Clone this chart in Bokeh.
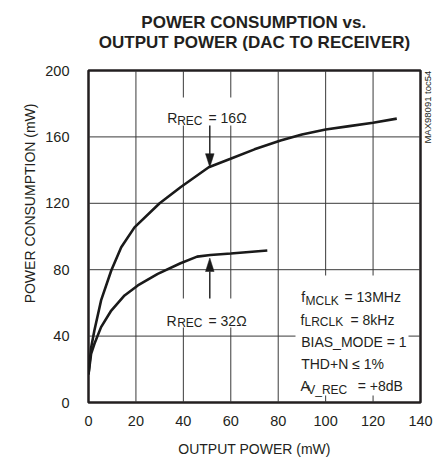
import math
from bokeh.plotting import figure
from bokeh.models import Label, Range1d, FixedTicker, LinearAxis, Title
from bokeh.embed import file_html
from bokeh.resources import INLINE

# ---- data ----
x16 = [0, 1.1, 2.5, 5.3, 9.6, 13.8, 19.4, 30, 38.8, 50.7, 59.9, 70, 81, 90, 100, 110, 120, 130]
y16 = [17, 33, 43.5, 61.5, 79.5, 93.5, 105.5, 120, 129.7, 141.7, 146.8, 152.5, 157.8, 161.5, 164.5, 166.5, 168.5, 171]

x32 = [0, 1.1, 2.5, 5.3, 9.6, 15.2, 20.8, 29.2, 38.8, 45.8, 51.4, 60, 75.4]
y32 = [17, 29.3, 35.4, 45.4, 55.4, 64.5, 70.5, 77.5, 83.9, 87.9, 88.9, 89.8, 91.6]

x_ticks = [0, 20, 40, 60, 80, 100, 120, 140]
y_ticks = [0, 40, 80, 120, 160, 200]

title_lines = ["POWER CONSUMPTION vs.", "OUTPUT POWER (DAC TO RECEIVER)"]

FONT = "Liberation Sans"
TXT = "#231f20"

# layout (page pixels of frame)
FL, FR, FT, FB = 88, 420, 70, 402
XMAX, YMAX = 140, 200


def X(px):
    return (px - FL) / (FR - FL) * XMAX


def Y(py):
    return (FB - py) / (FB - FT) * YMAX


p = figure(title=None, frame_width=FR - FL, frame_height=FB - FT,
           min_border_left=FL, min_border_right=17,
           min_border_top=FT, min_border_bottom=58,
           x_range=Range1d(0, XMAX), y_range=Range1d(0, YMAX),
           output_backend="svg", toolbar_location=None,
           background_fill_color="white", border_fill_color="white")

# title: one two-line block; first line padded with no-break spaces to centre it
title_text = "\u00a0" * 9 + title_lines[0] + "\n" + title_lines[1]
ttl = Title(text=title_text, align="center",
            text_font=FONT, text_font_size="17px", text_font_style="bold",
            text_color=TXT, text_line_height=1.07)
if "padding" in Title.properties():
    ttl.padding = dict(left=0, right=0, top=0, bottom=13)
else:
    p.add_layout(Title(text="\u00a0", text_font_size="1px"), "above")
p.add_layout(ttl, "above")

p.outline_line_color = "#231f20"
p.outline_line_width = 2.5

p.xaxis.ticker = FixedTicker(ticks=x_ticks)
p.yaxis.ticker = FixedTicker(ticks=y_ticks)
for ax in (p.xaxis, p.yaxis):
    ax.axis_line_color = None
    ax.major_tick_line_color = None
    ax.minor_tick_line_color = None
    ax.major_label_text_font = FONT
    ax.major_label_text_font_size = "14.5px"
    ax.major_label_text_color = TXT
    ax.axis_label_text_font = FONT
    ax.axis_label_text_font_size = "14px"
    ax.axis_label_text_font_style = "normal"
    ax.axis_label_text_color = TXT
p.xaxis.major_label_standoff = 7
p.yaxis.major_label_standoff = 13
p.xaxis.axis_label = "OUTPUT POWER (mW)"
p.xaxis.axis_label_standoff = 12
p.yaxis.axis_label = "\u00a0" * 17 + "POWER CONSUMPTION (mW)"
p.yaxis.axis_label_standoff = 4

p.xgrid.visible = False
p.ygrid.visible = False

# grid lines drawn at the tick values
gx = x_ticks[1:-1]
gy = y_ticks[1:-1]
p.segment(x0=gx, x1=gx, y0=[0] * len(gx), y1=[YMAX] * len(gx),
          line_color="#3a3a3a", line_width=1)
p.segment(x0=[0] * len(gy), x1=[XMAX] * len(gy), y0=gy, y1=gy,
          line_color="#3a3a3a", line_width=1)

# document id on the right edge
rax = LinearAxis(ticker=FixedTicker(ticks=[156]),
                 major_label_overrides={156: "MAX98091 toc54"},
                 major_label_orientation=math.pi / 2,
                 axis_line_color=None, major_tick_line_color=None,
                 minor_tick_line_color=None,
                 major_label_text_font=FONT, major_label_text_font_size="9.5px",
                 major_label_text_color=TXT, major_label_standoff=1)
p.add_layout(rax, "right")

# white boxes behind annotation text (cover grid)
boxes = [(164, 255, 97, 125), (164, 255, 298, 327), (295, 408, 275, 395)]
p.quad(left=[X(b[0]) for b in boxes], right=[X(b[1]) for b in boxes],
       top=[Y(b[2]) for b in boxes], bottom=[Y(b[3]) for b in boxes],
       fill_color="white", line_color=None)

# curves
p.line(x16, y16, line_color="#1a1a1a", line_width=2.6)
p.line(x32, y32, line_color="#1a1a1a", line_width=2.6)

# arrows
ax_ = 209.3
p.segment(x0=[X(ax_), X(ax_)], y0=[Y(125), Y(271)], x1=[X(ax_), X(ax_)], y1=[Y(155), Y(298)],
          line_color="#1a1a1a", line_width=1.4)
hx = [[X(ax_), X(ax_ - 4.3), X(ax_ + 4.3)], [X(ax_), X(ax_ - 4.3), X(ax_ + 4.3)]]
hy = [[Y(166.7), Y(153.2), Y(153.2)], [Y(257.5), Y(271), Y(271)]]
p.patches(hx, hy, fill_color="#1a1a1a", line_color="#1a1a1a", line_width=0.5)


def txt(px, py, s, size, align="left"):
    p.add_layout(Label(x=X(px), y=Y(py), text=s, text_font=FONT,
                       text_font_size=f"{size}px", text_align=align,
                       text_baseline="alphabetic", text_color=TXT))


# curve labels
txt(166.7, 117, "R", 14)
txt(176.7, 120, "REC", 12)
txt(208, 117, "= 16\u03a9", 14)
txt(166.0, 320, "R", 14)
txt(176.7, 322.7, "REC", 12)
txt(208, 320, "= 32\u03a9", 14)

# conditions block
txt(300.7, 296.7, "f", 14)
txt(305, 300, "MCLK", 12)
txt(344, 296.7, "= 13MHz", 14)
txt(300.0, 319.3, "f", 14)
txt(304, 321.7, "LRCLK", 12)
txt(350, 319.3, "= 8kHz", 14)
txt(300.7, 341.7, "BIAS_MODE = 1", 14)
txt(300.7, 363.3, "THD+N \u2264 1%", 14)
txt(300.0, 385, "A", 14)
txt(306.7, 389.3, "V_REC", 12)
txt(357.3, 385, "= +8dB", 14)

open("out.html", "w").write(file_html(p, INLINE))
